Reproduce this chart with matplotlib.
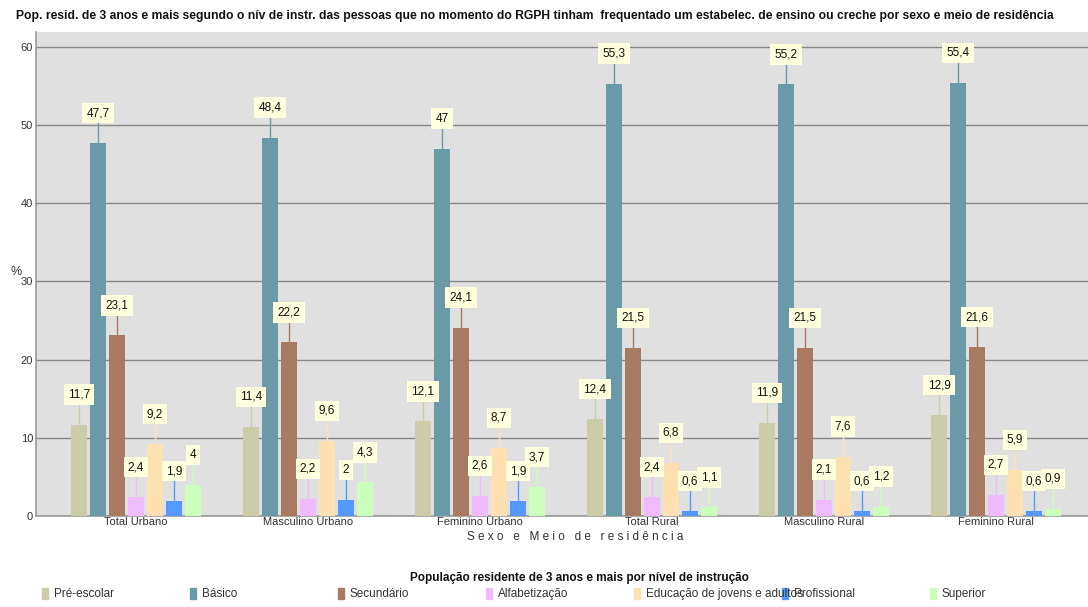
import matplotlib
matplotlib.use("Agg")
import matplotlib.pyplot as plt
from matplotlib.patches import Rectangle
import numpy as np

plt.rcParams['font.family'] = ['Liberation Sans', 'DejaVu Sans']

categories = ["Total Urbano", "Masculino Urbano", "Feminino Urbano",
              "Total Rural", "Masculino Rural", "Feminino Rural"]
series_names = ["Pré-escolar", "Básico", "Secundário", "Alfabetização",
                "Educação de jovens e adultos", "Profissional", "Superior"]
pre_escolar = [11.7, 11.4, 12.1, 12.4, 11.9, 12.9]
basico = [47.7, 48.4, 47.0, 55.3, 55.2, 55.4]
secundario = [23.1, 22.2, 24.1, 21.5, 21.5, 21.6]
alfabetizacao = [2.4, 2.2, 2.6, 2.4, 2.1, 2.7]
educacao = [9.2, 9.6, 8.7, 6.8, 7.6, 5.9]
profissional = [1.9, 2.0, 1.9, 0.6, 0.6, 0.6]
superior = [4.0, 4.3, 3.7, 1.1, 1.2, 0.9]
series = [pre_escolar, basico, secundario, alfabetizacao, educacao, profissional, superior]
colors = ["#CCCCA8", "#6A9AA8", "#A87A62", "#EEBBFF", "#FFE0B0", "#5599FF", "#CCFFBB"]

W, H = 1088, 607
fig = plt.figure(figsize=(W / 100, H / 100), dpi=100)
ax = fig.add_axes([36 / W, (H - 516) / H, (1088 - 36) / W, (516 - 32) / H])
ax.set_facecolor("#E0E0E0")

x = np.arange(len(categories))
pitch = 19 / 172
width = 16 / 172
px_per_unit_y = (516 - 32) / 61.9
for j, (vals, col) in enumerate(zip(series, colors)):
    xs = x + (j - 3) * pitch
    ax.bar(xs, vals, width=width, color=col, zorder=3)
    for xi, v in zip(xs, vals):
        off = 30 / px_per_unit_y
        ax.plot([xi, xi], [v, v + off - 1.2], color=col, lw=1, zorder=2)
        lab = f"{v:g}".replace(".", ",")
        ax.text(xi, v + off, lab, ha="center", va="center", fontsize=8.5,
                color="#111111", zorder=5,
                bbox=dict(boxstyle="square,pad=0.35", fc="#FFFFDD", ec="none"))

ax.set_xlim((36 - 136) / 172, (1088 - 136) / 172)
ax.set_ylim(0, 61.9)
ax.set_yticks([0, 10, 20, 30, 40, 50, 60])
ax.set_xticks(x)
ax.set_xticklabels(categories)
ax.tick_params(axis="both", labelsize=8, colors="#333333", length=0, pad=2)
ax.tick_params(axis="x", pad=1)
ax.yaxis.grid(True, color="#888888", lw=1, zorder=1)
for s in ["top", "right"]:
    ax.spines[s].set_visible(False)
for s in ["left", "bottom"]:
    ax.spines[s].set_color("#999999")
    ax.spines[s].set_linewidth(1.2)

fig.text(16 / W, 1 - 16 / H,
         "Pop. resid. de 3 anos e mais segundo o nív de instr. das pessoas que no momento do RGPH tinham  frequentado um estabelec. de ensino ou creche por sexo e meio de residência",
         fontsize=8.75, fontweight="bold", ha="left", va="center", color="#111111")
fig.text(16 / W, 1 - 272 / H, "%", fontsize=9, ha="center", va="center", color="#333333")
fig.text(575 / W, 1 - 537 / H, " ".join("Sexo e Meio de residência"),
         fontsize=8.5, ha="center", va="center", color="#333333")

fig.text(579 / W, 1 - 578 / H, "População residente de 3 anos e mais por nível de instrução",
         fontsize=8.5, fontweight="bold", ha="center", va="center", color="#111111")
for k, (name, col) in enumerate(zip(series_names, colors)):
    lx = 42 + 148 * k
    fig.patches.append(Rectangle((lx / W, 1 - 599 / H), 6 / W, 11 / H,
                                 transform=fig.transFigure, color=col))
    fig.text((lx + 12) / W, 1 - 594 / H, name, fontsize=8.5, ha="left", va="center",
             color="#333333")

fig.savefig("out.png", dpi=100)
